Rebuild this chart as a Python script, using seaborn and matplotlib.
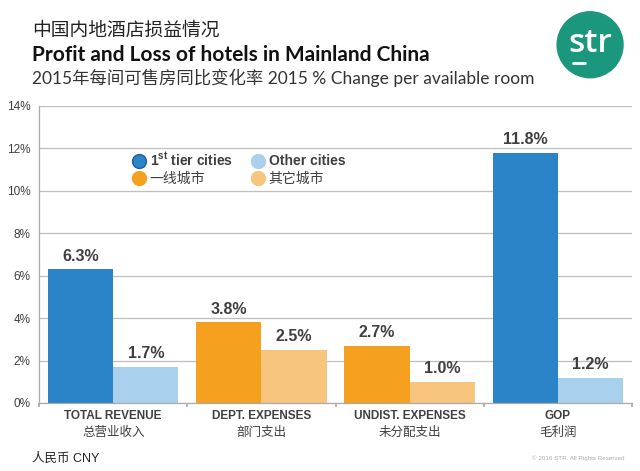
import pandas as pd
import matplotlib
matplotlib.use('Agg')
import matplotlib.pyplot as plt
import matplotlib.transforms as mtransforms
from matplotlib.lines import Line2D
from matplotlib.patches import Ellipse
import seaborn as sns


######
# Data
######
categories_en = ['TOTAL REVENUE', 'DEPT. EXPENSES', 'UNDIST. EXPENSES', 'GOP']
categories_cn = ['总营业收入', '部门支出', '未分配支出', '毛利润']
first_tier = [6.3, 3.8, 2.7, 11.8]
other_cities = [1.7, 2.5, 1.0, 1.2]
y_ticks = [0, 2, 4, 6, 8, 10, 12, 14]

# Colors
dark_blue = '#2A84C7'
light_blue = '#A9D0EC'
dark_orange = '#F5A01F'
light_orange = '#F7C57D'
text_grey = '#3F3F3F'
is_blue = [True, False, False, True]


#############
# Preliminari
#############
sns.set_theme(style='white')
plt.rcParams['font.family'] = ['Liberation Sans', 'Noto Sans CJK SC', 'DejaVu Sans']

df = pd.DataFrame({
    'category': categories_en * 2,
    'series': ['first'] * 4 + ['other'] * 4,
    'value': first_tier + other_cities,
})

fig = plt.figure(figsize=(6.4, 4.71), dpi=100)
ax = fig.add_axes([0.061, 0.1444, 0.9265, 0.6306])

sns.barplot(data=df, x='category', y='value', hue='series', order=categories_en,
            hue_order=['first', 'other'], width=0.88, gap=0, ax=ax, legend=False,
            edgecolor='none', linewidth=0)

# Recolor bars per category
for k, cont in enumerate(ax.containers):
    for i, bar in enumerate(cont):
        if is_blue[i]:
            bar.set_facecolor(dark_blue if k == 0 else light_blue)
        else:
            bar.set_facecolor(dark_orange if k == 0 else light_orange)
    ax.bar_label(cont, labels=[f'{v:.1f}%' for v in cont.datavalues], padding=4,
                 fontsize=11.5, fontweight='bold', color=text_grey)

ax.set_ylim(0, 14)
ax.set_xlim(-0.5, 3.5)
ax.set_yticks(y_ticks)
ax.set_yticklabels([f'{t}%' for t in y_ticks], fontsize=8.5, color=text_grey)
ax.yaxis.grid(True, color='#BEBEBE', linewidth=0.9)
ax.set_axisbelow(True)
ax.set_xlabel('')
ax.set_ylabel('')
for s in ['top', 'right']:
    ax.spines[s].set_visible(False)
for s in ['left', 'bottom']:
    ax.spines[s].set_color('#AAAAAA')
    ax.spines[s].set_linewidth(0.9)

# Ticks at group boundaries
ax.set_xticks([-0.5, 0.5, 1.5, 2.5, 3.5])
ax.set_xticklabels([])
ax.tick_params(axis='x', length=3, color='#AAAAAA', direction='out', bottom=True)
ax.tick_params(axis='y', length=0, pad=6)

trans = mtransforms.blended_transform_factory(ax.transData, ax.transAxes)
for i, (en, cn) in enumerate(zip(categories_en, categories_cn)):
    ax.text(i, -0.045, en, transform=trans, ha='center', va='center',
            fontsize=8.5, fontweight='bold', color=text_grey)
    ax.text(i, -0.1, cn, transform=trans, ha='center', va='center',
            fontsize=9, color=text_grey)

# Legend
handles = [
    Line2D([], [], marker='o', linestyle='', markersize=10, markerfacecolor=dark_blue, markeredgecolor='#1F5F95'),
    Line2D([], [], marker='o', linestyle='', markersize=10, markerfacecolor=dark_orange, markeredgecolor=dark_orange),
    Line2D([], [], marker='o', linestyle='', markersize=10, markerfacecolor=light_blue, markeredgecolor=light_blue),
    Line2D([], [], marker='o', linestyle='', markersize=10, markerfacecolor=light_orange, markeredgecolor=light_orange),
]
labels = ['1$^{\\mathregular{st}}$ tier cities', '一线城市', 'Other cities', '其它城市']
leg = ax.legend(handles, labels, ncol=2, frameon=False, loc='center left',
                bbox_to_anchor=(0.135, 0.79), fontsize=10, handletextpad=0.3,
                columnspacing=1.3, labelspacing=0.25, handlelength=1.0)
for t in leg.get_texts():
    t.set_color(text_grey)
    if t.get_text().startswith('1') or t.get_text().startswith('Other'):
        t.set_fontweight('bold')

#########
# Titles
#########
title_fonts = ['Lato', 'Noto Sans CJK SC', 'DejaVu Sans']
fig.text(0.05, 0.937, '中国内地酒店损益情况', fontsize=13.5, color='#222222',
         family=title_fonts, va='center')
fig.text(0.05, 0.884, 'Profit and Loss of hotels in Mainland China', fontsize=15,
         fontweight='bold', color='#111111', family=title_fonts, va='center')
fig.text(0.05, 0.835, '2015年每间可售房同比变化率 2015 % Change per available room',
         fontsize=12.5, color='#333333', family=title_fonts, va='center')

# STR logo
logo = Ellipse((0.922, 0.905), 0.103, 0.103 * 640 / 471, transform=fig.transFigure,
               color='#1A977C')
fig.patches.append(logo)
fig.text(0.922, 0.908, 'str', fontsize=24, color='white', ha='center', va='center',
         family=['Open Sans', 'DejaVu Sans'], fontweight='semibold')
fig.lines.append(Line2D([0.895, 0.914], [0.866, 0.866], transform=fig.transFigure,
                        color='white', linewidth=2))

# Footer
fig.text(0.05, 0.027, '人民币 CNY', fontsize=9, color='#222222', va='center')
fig.text(0.976, 0.027, '© 2016 STR. All Rights Reserved', fontsize=4.5, color='#AAAAAA',
         ha='right', va='center')

fig.savefig('out.png', dpi=100)
